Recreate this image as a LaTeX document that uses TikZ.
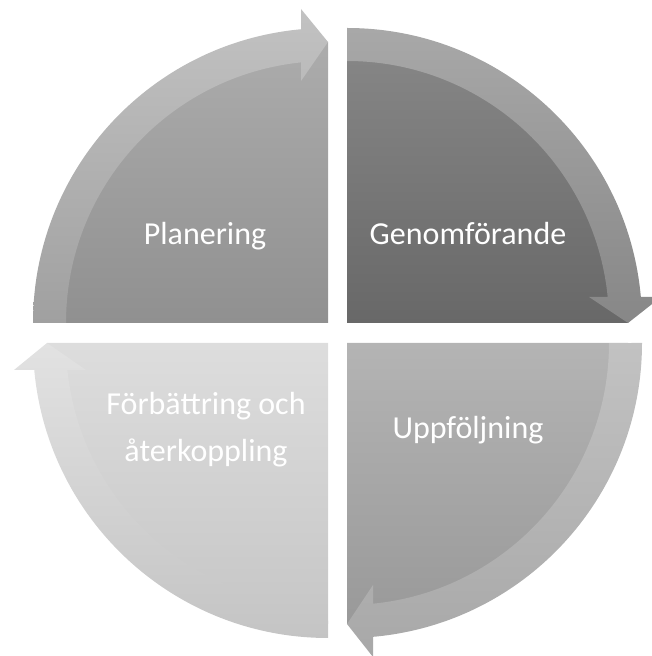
\documentclass[tikz,border=0pt]{standalone}
\usepackage{fontspec}
\setmainfont{Carlito}
\definecolor{pPieT}{HTML}{ACACAC}\definecolor{pPieB}{HTML}{909090}
\definecolor{pBandT}{HTML}{C2C2C2}\definecolor{pBandB}{HTML}{A0A0A0}
\definecolor{gPieT}{HTML}{878787}\definecolor{gPieB}{HTML}{686868}
\definecolor{gBandT}{HTML}{A8A8A8}\definecolor{gBandB}{HTML}{878787}
\definecolor{uPieT}{HTML}{B4B4B4}\definecolor{uPieB}{HTML}{999999}
\definecolor{uBandT}{HTML}{C2C2C2}\definecolor{uBandB}{HTML}{A8A8A8}
\definecolor{fPieT}{HTML}{DDDDDD}\definecolor{fPieB}{HTML}{C6C6C6}
\definecolor{fBandT}{HTML}{E2E2E2}\definecolor{fBandB}{HTML}{C4C4C4}
\begin{document}
\begin{tikzpicture}[x=1pt,y=1pt,
  lbl/.style={text=white,inner sep=0pt,font=\fontsize{32}{47.5}\selectfont,align=center}]
\useasboundingbox (0,0) rectangle (652,656);
% Planering (top-left)
\begin{scope}[shift={(328,333)}]
  \path[top color=pPieT,bottom color=pPieB]
    (0,0) -- (180:281) arc[start angle=180,end angle=90,radius=281] -- cycle;
  \path[top color=pBandT,bottom color=pBandB]
    (180:295) arc[start angle=180,end angle=95.25,radius=295]
    -- (-27,314) -- (0,281) -- (-27,242) -- (-27,260.6)
    arc[start angle=95.92,end angle=180,radius=262] -- cycle;
\end{scope}
% Genomforande (top-right)
\begin{scope}[shift={(347,333)}]
  \path[top color=gPieT,bottom color=gPieB]
    (0,0) -- (90:281) arc[start angle=90,end angle=0,radius=281] -- cycle;
  \path[top color=gBandT,bottom color=gBandB]
    (90:295) arc[start angle=90,end angle=5.06,radius=295]
    -- (314,26) -- (281,0) -- (242,26) -- (260.7,26)
    arc[start angle=5.70,end angle=90,radius=262] -- cycle;
\end{scope}
% Uppfoljning (bottom-right)
\begin{scope}[shift={(347,313)}]
  \path[top color=uPieT,bottom color=uPieB]
    (0,0) -- (0:281) arc[start angle=0,end angle=-90,radius=281] -- cycle;
  \path[top color=uBandT,bottom color=uBandB]
    (0:295) arc[start angle=0,end angle=-84.94,radius=295]
    -- (26,-314) -- (0,-281) -- (26,-242) -- (26,-260.7)
    arc[start angle=-84.30,end angle=0,radius=262] -- cycle;
\end{scope}
% Forbattring (bottom-left)
\begin{scope}[shift={(328,313)}]
  \path[top color=fPieT,bottom color=fPieB]
    (0,0) -- (-90:281) arc[start angle=-90,end angle=-180,radius=281] -- cycle;
  \path[top color=fBandT,bottom color=fBandB]
    (-90:295) arc[start angle=-90,end angle=-174.75,radius=295]
    -- (-314,-27) -- (-281,0) -- (-242,-27) -- (-260.6,-27)
    arc[start angle=-174.08,end angle=-90,radius=262] -- cycle;
\end{scope}
\node[lbl,anchor=base] (plan) at (205,411.5) {Planering};
\node[lbl,anchor=base] (genom) at (468,411.5) {Genomförande};
\node[lbl,anchor=base] (upp) at (468,217.3) {Uppföljning};
\node[lbl,anchor=base] (forb) at (206,194) {Förbättring och\\återkoppling};
\end{tikzpicture}
\end{document}
